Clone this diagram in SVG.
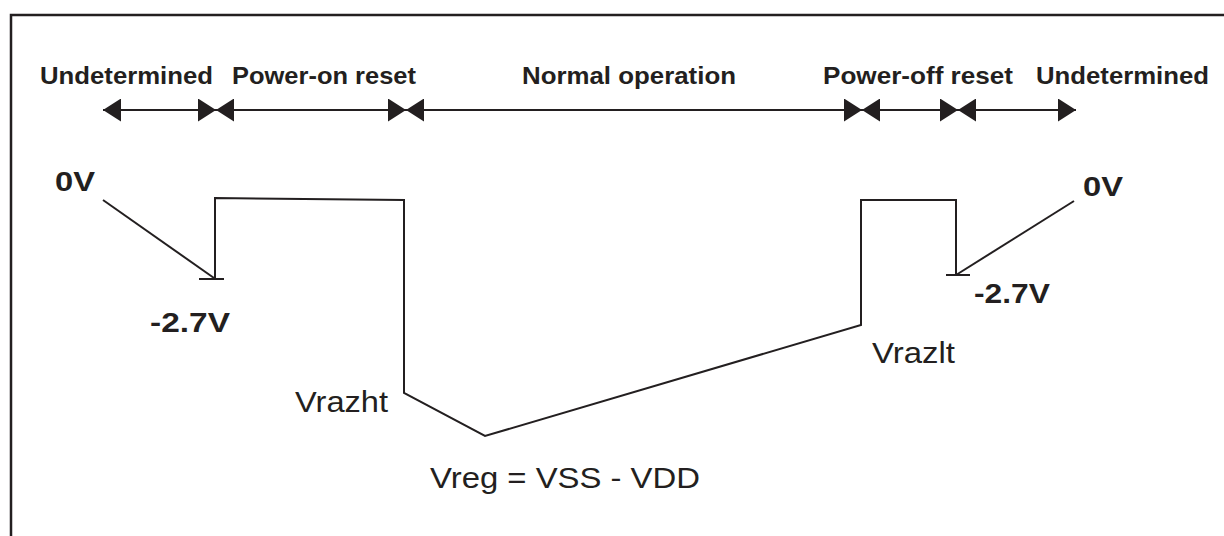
<svg xmlns="http://www.w3.org/2000/svg" width="1224" height="536" viewBox="0 0 1224 536">
<style>
.hdr{font-family:"Liberation Sans",Arial,sans-serif;font-weight:bold;font-size:24.5px;fill:#231f20}
.volt{font-family:"Liberation Sans",Arial,sans-serif;font-weight:bold;font-size:28.5px;fill:#231f20}
.lbl{font-family:"Liberation Sans",Arial,sans-serif;font-size:30px;fill:#231f20}
.wire{fill:none;stroke:#231f20;stroke-width:2}
.span{fill:none;stroke:#231f20;stroke-width:2;marker-start:url(#ah);marker-end:url(#ah)}
</style>
<defs>
<marker id="ah" viewBox="0 0 18 23" refX="18" refY="11.5" markerWidth="18" markerHeight="23" markerUnits="userSpaceOnUse" orient="auto-start-reverse">
<path d="M0,0 L18,11.5 L0,23 z" fill="#231f20"/>
</marker>
</defs>
<rect width="1224" height="536" fill="#fff"/>
<path d="M11,536 V15 H1224" fill="none" stroke="#231f20" stroke-width="2.5"/>
<g id="connectors">
<line class="span" x1="103" y1="110" x2="216" y2="110"/>
<line class="span" x1="216" y1="110" x2="406" y2="110"/>
<line class="span" x1="406" y1="110" x2="862" y2="110"/>
<line class="span" x1="862" y1="110" x2="958" y2="110"/>
<line class="span" x1="958" y1="110" x2="1076" y2="110"/>
</g>
<g id="phase-undetermined-1"><text class="hdr" x="40" y="84" textLength="173" lengthAdjust="spacingAndGlyphs">Undetermined</text></g>
<g id="phase-power-on"><text class="hdr" x="232" y="84" textLength="184" lengthAdjust="spacingAndGlyphs">Power-on reset</text></g>
<g id="phase-normal"><text class="hdr" x="522" y="84" textLength="214" lengthAdjust="spacingAndGlyphs">Normal operation</text></g>
<g id="phase-power-off"><text class="hdr" x="823" y="84" textLength="190" lengthAdjust="spacingAndGlyphs">Power-off reset</text></g>
<g id="phase-undetermined-2"><text class="hdr" x="1036" y="84" textLength="173" lengthAdjust="spacingAndGlyphs">Undetermined</text></g>
<g id="waveform">
<path class="wire" d="M103,200 L214,278"/>
<path class="wire" d="M199,279 H224"/>
<path class="wire" d="M215,279 V198 L404,200 V393 L485,436 L861,325 V200 H956 V275"/>
<path class="wire" d="M946,275 H970"/>
<path class="wire" d="M956,275 L1074,201"/>
</g>
<g id="v0-left"><text class="volt" x="55" y="191" textLength="40" lengthAdjust="spacingAndGlyphs">0V</text></g>
<g id="v27-left"><text class="volt" x="150" y="332" textLength="80" lengthAdjust="spacingAndGlyphs">-2.7V</text></g>
<g id="v0-right"><text class="volt" x="1083" y="196" textLength="40" lengthAdjust="spacingAndGlyphs">0V</text></g>
<g id="v27-right"><text class="volt" x="974" y="303" textLength="76" lengthAdjust="spacingAndGlyphs">-2.7V</text></g>
<g id="vrazht"><text class="lbl" x="295" y="412" textLength="93" lengthAdjust="spacingAndGlyphs">Vrazht</text></g>
<g id="vrazlt"><text class="lbl" x="872" y="363" textLength="83" lengthAdjust="spacingAndGlyphs">Vrazlt</text></g>
<g id="vreg"><text class="lbl" x="430" y="488" textLength="270" lengthAdjust="spacingAndGlyphs">Vreg = VSS - VDD</text></g>
</svg>
